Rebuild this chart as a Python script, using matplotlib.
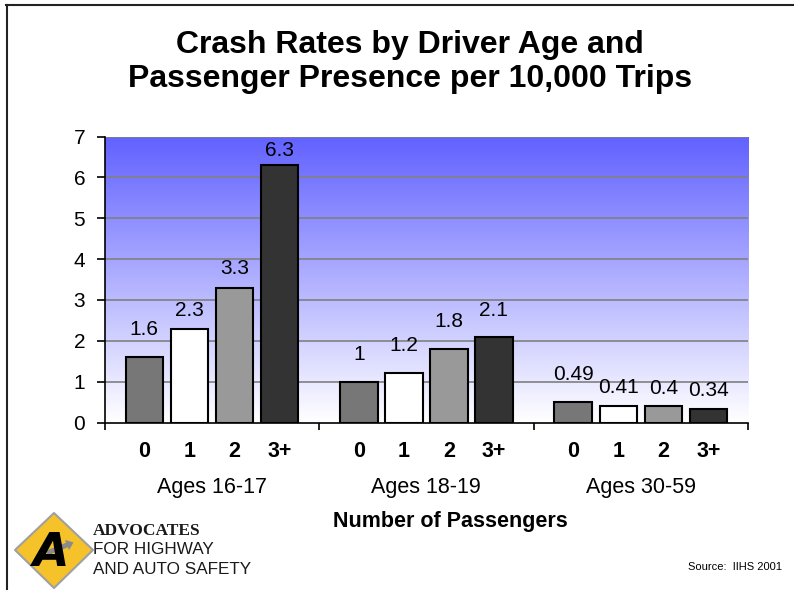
import numpy as np
import matplotlib.pyplot as plt
from matplotlib.patches import Polygon, FancyArrow

plt.rcParams['font.family'] = ['Liberation Sans', 'DejaVu Sans']

groups = ['Ages 16-17', 'Ages 18-19', 'Ages 30-59']
passengers = ['0', '1', '2', '3+']
rates = [
    [1.6, 2.3, 3.3, 6.3],
    [1.0, 1.2, 1.8, 2.1],
    [0.49, 0.41, 0.4, 0.34],
]
rate_labels = [
    ['1.6', '2.3', '3.3', '6.3'],
    ['1', '1.2', '1.8', '2.1'],
    ['0.49', '0.41', '0.4', '0.34'],
]

bar_colors = ['#777777', '#ffffff', '#999999', '#333333']
# label gap above each bar, in points (Excel nudged some labels up)
label_pad = [[13, 6, 7, 4], [13, 13, 13, 12], [13, 6, 6, 6]]

W, H = 794, 590
fig = plt.figure(figsize=(W / 100, H / 100), dpi=100)
ax = fig.add_axes([104.7 / W, 1 - 422.5 / H, (748 - 104.7) / W, (422.5 - 136.5) / H])

# blue to white gradient behind the bars
grad = np.linspace(0, 1, 256).reshape(-1, 1)
top = np.array([0.38, 0.38, 1.0])
img = 1 - grad[..., None] * (1 - top)
ax.imshow(img, extent=[0, 3, 0, 7], origin='lower', aspect='auto', zorder=0)

ax.set_xlim(0, 3)
ax.set_ylim(0, 7)
ax.set_yticks(range(0, 8))
ax.tick_params(axis='y', labelsize=15, direction='out', length=6, width=1.2, pad=8)
for y in range(1, 8):
    ax.axhline(y, color='#808080', lw=1.2, zorder=1)

step = 0.21
width = 0.175
for g, vals in enumerate(rates):
    for i, v in enumerate(vals):
        x = g + 0.185 + step * i
        ax.bar(x, v, width=width, color=bar_colors[i], edgecolor='black', lw=1.5, zorder=2)
        ax.annotate(rate_labels[g][i], (x, v), xytext=(0, label_pad[g][i]),
                    textcoords='offset points', ha='center', va='bottom', fontsize=15)

ax.set_xticks([0, 1, 2, 3])
ax.set_xticklabels([])
ax.tick_params(axis='x', direction='out', length=5, width=1.2)
minor_pos = [g + 0.185 + step * i for g in range(3) for i in range(4)]
ax.set_xticks(minor_pos, minor=True)
ax.set_xticklabels(passengers * 3, minor=True, fontsize=15.5, fontweight='bold')
ax.tick_params(axis='x', which='minor', length=0, pad=13)

for g, name in enumerate(groups):
    ax.annotate(name, (g + 0.5, 0), xytext=(0, -47), textcoords='offset points',
                ha='center', va='center', fontsize=15.5, annotation_clip=False)

ax.spines['top'].set_visible(False)
ax.spines['right'].set_visible(False)
ax.spines['left'].set_linewidth(1.2)
ax.spines['bottom'].set_linewidth(1.2)

fig.text(410 / W, 1 - 53 / H, 'Crash Rates by Driver Age and', ha='center', va='baseline',
         fontsize=23, fontweight='bold')
fig.text(410 / W, 1 - 87 / H, 'Passenger Presence per 10,000 Trips', ha='center', va='baseline',
         fontsize=23, fontweight='bold')
fig.text(450 / W, 1 - 522 / H, 'Number of Passengers', ha='center', va='center',
         fontsize=15.5, fontweight='bold')
fig.text(735 / W, 1 - 567 / H, 'Source:  IIHS 2001', ha='center', va='center', fontsize=8)

# overlay in pixel coordinates for frame and logo
ov = fig.add_axes([0, 0, 1, 1], facecolor='none')
ov.set_xlim(0, W)
ov.set_ylim(H, 0)
ov.axis('off')
ov.plot([6, W], [4.5, 4.5], color='#222222', lw=1.5)
ov.plot([6.5, 6.5], [4.5, H], color='#222222', lw=1.5)

diamond = Polygon([[15, 550], [54, 513], [93, 550], [54, 588]], closed=True,
                  fc='#F6C22A', ec='#a0a0a0', lw=1.5, joinstyle='round')
ov.add_patch(diamond)
ov.text(50, 553, 'A', ha='center', va='center', fontsize=34, fontweight='bold',
        style='italic', family='DejaVu Sans', color='black')
ov.add_patch(FancyArrow(47, 553, 20, -8, width=5, head_width=11, head_length=7,
                        fc='#8a8a8a', ec='none'))
ov.text(93, 531, 'ADVOCATES', ha='left', va='center', fontsize=12.5,
        fontweight='bold', family='Liberation Serif', color='#1a1a1a')
ov.text(93, 550, 'FOR HIGHWAY', ha='left', va='center', fontsize=12.3, color='#1a1a1a')
ov.text(93, 569, 'AND AUTO SAFETY', ha='left', va='center', fontsize=12.3, color='#1a1a1a')

fig.savefig('out.png', dpi=100)
